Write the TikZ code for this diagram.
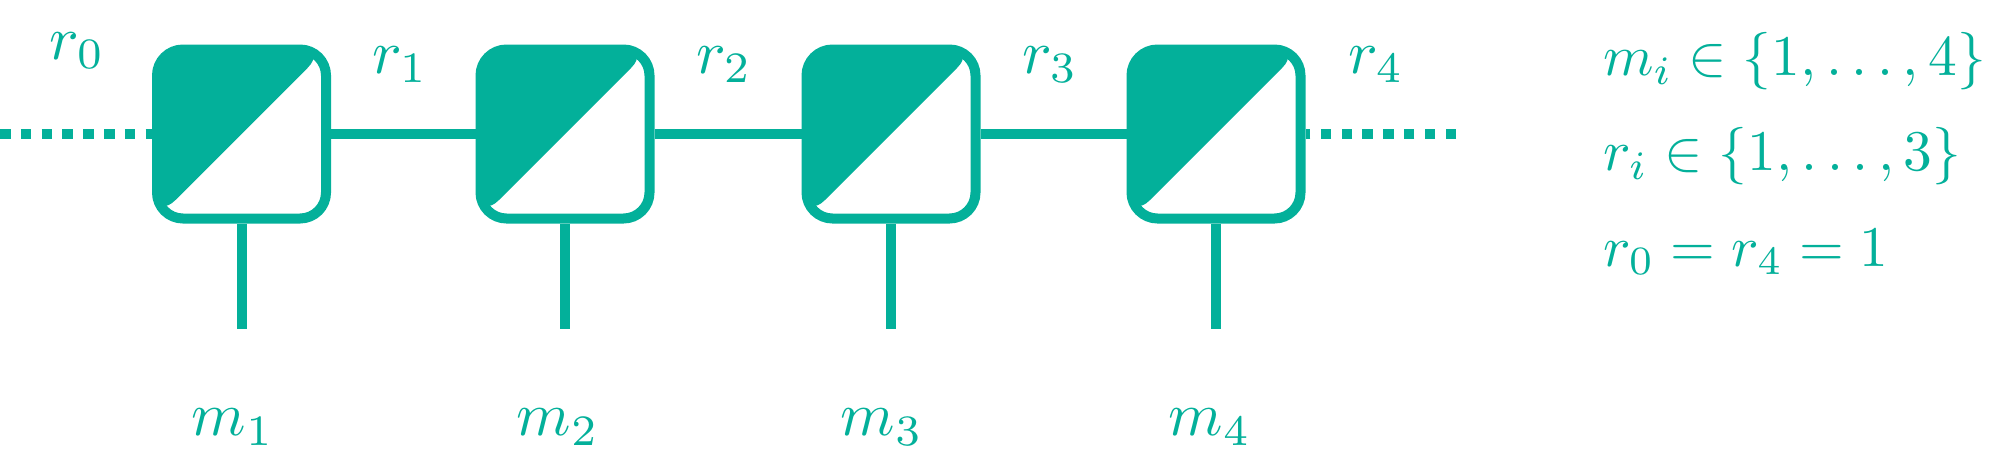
\documentclass[tikz,border=0pt]{standalone}
\definecolor{tealc}{RGB}{3,176,154}
\begin{document}
\begin{tikzpicture}[x=1pt,y=-1pt,
  tbox/.style={draw=tealc, line width=10pt, fill=white, rounded corners=26pt,
    minimum width=169pt, minimum height=169pt, inner sep=0pt,
    path picture={\fill[tealc] (path picture bounding box.north west) -- (path picture bounding box.north east) -- (path picture bounding box.south west) -- cycle;}},
  wire/.style={draw=tealc, line width=10pt},
  dotwire/.style={draw=tealc, line width=10pt, dash pattern=on 10.5pt off 10.3pt},
  lbl/.style={text=tealc, inner sep=0pt, scale=6.2},
  legend/.style={text=tealc, inner sep=0pt, scale=5.75, anchor=west}]
\useasboundingbox (0,0) rectangle (1991,456);
% tensors
\node[tbox] (b1) at (241.5,134) {};
\node[tbox] (b2) at (565,134) {};
\node[tbox] (b3) at (891,134) {};
\node[tbox] (b4) at (1216,134) {};
% free ends
\coordinate (lend) at (0,134);
\coordinate (rend) at (1456,134);
\coordinate (l1) at (241.5,329);
\coordinate (l2) at (565,329);
\coordinate (l3) at (891,329);
\coordinate (l4) at (1216,329);
% bonds
\draw[wire] (b1.east) -- (b2.west);
\draw[wire] (b2.east) -- (b3.west);
\draw[wire] (b3.east) -- (b4.west);
\draw[dotwire] (lend) -- (b1.west);
\draw[dotwire] (rend) -- (b4.east);
% legs
\draw[wire] (b1.south) -- (l1);
\draw[wire] (b2.south) -- (l2);
\draw[wire] (b3.south) -- (l3);
\draw[wire] (b4.south) -- (l4);
% labels
\node[lbl] (r0) at (77,51) {$r_0$};
\node[lbl] (r1) at (400,65) {$r_1$};
\node[lbl] (r2) at (724,65) {$r_2$};
\node[lbl] (r3) at (1050,65) {$r_3$};
\node[lbl] (r4) at (1376,65) {$r_4$};
\node[lbl] (m1) at (233,427) {$m_1$};
\node[lbl] (m2) at (558,427) {$m_2$};
\node[lbl] (m3) at (882,427) {$m_3$};
\node[lbl] (m4) at (1210,427) {$m_4$};
% legend
\node[legend] (t1) at (1602,61) {$m_i \in \{1, \dots, 4\}$};
\node[legend] (t2) at (1602,156) {$r_i \in \{1, \dots, 3\}$};
\node[legend] (t3) at (1602,252) {$r_0 = r_4 = 1$};
\end{tikzpicture}
\end{document}
